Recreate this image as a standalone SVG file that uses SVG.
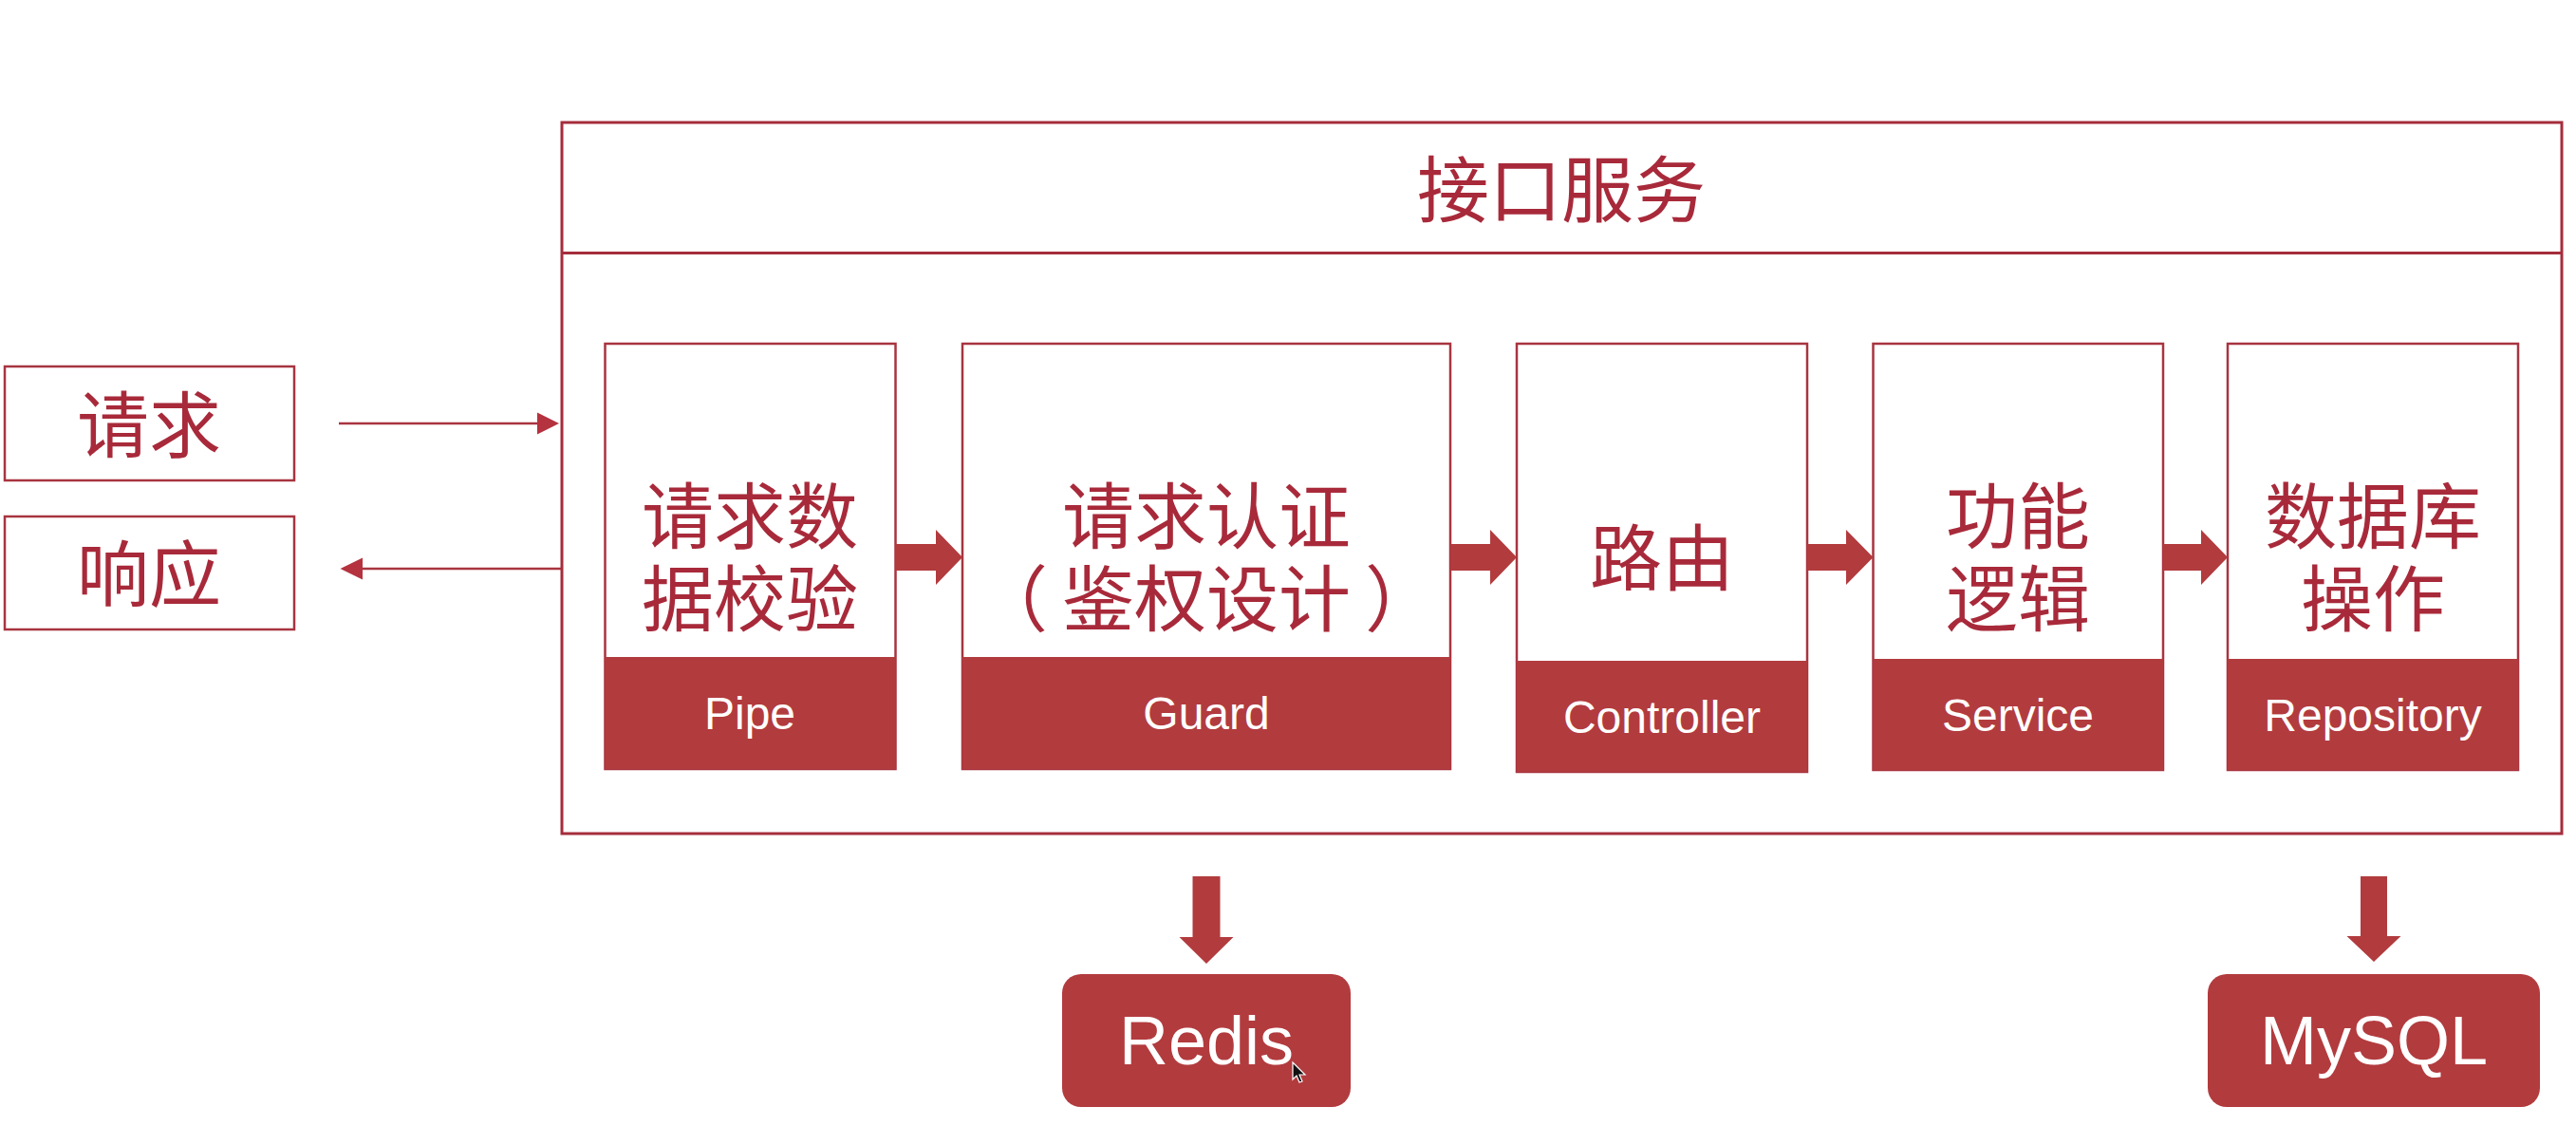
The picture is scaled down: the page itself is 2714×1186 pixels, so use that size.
<svg xmlns="http://www.w3.org/2000/svg" width="2714" height="1186" viewBox="0 0 2714 1186">
  <style>
    .frame { fill: #ffffff; stroke: #a52d3c; stroke-width: 3; }
    .box { fill: #ffffff; stroke: #a83440; stroke-width: 2.5; }
    .bar { fill: #b23b3e; }
    .cjk { font-family: "Noto Sans CJK SC", "Noto Sans", sans-serif; font-size: 76px; fill: #a82a3a; text-anchor: middle; }
    .lbl { font-family: "Liberation Sans", Arial, sans-serif; font-size: 48px; fill: #ffffff; text-anchor: middle; }
    .db { font-family: "Liberation Sans", Arial, sans-serif; font-size: 72px; fill: #ffffff; text-anchor: middle; }
    .fat { fill: #b23b3e; }
    .thin { stroke: #a83440; stroke-width: 2.5; fill: none; }
    .head { fill: #b5323f; }
  </style>
  <rect width="2714" height="1186" fill="#ffffff"/>

  <g id="request">
    <rect class="box" x="5" y="386" width="305" height="120"/>
    <text class="cjk" x="157" y="476">请求</text>
  </g>
  <g id="response">
    <rect class="box" x="5" y="544" width="305" height="119"/>
    <text class="cjk" x="157" y="633">响应</text>
  </g>

  <g id="api-service">
    <rect class="frame" x="592" y="129" width="2107" height="749"/>
    <line x1="592" y1="266.5" x2="2699" y2="266.5" stroke="#a52d3c" stroke-width="3"/>
    <text class="cjk" x="1645" y="228">接口服务</text>
  </g>

  <g id="pipe">
    <rect class="box" x="637.5" y="362" width="306" height="448"/>
    <rect class="bar" x="637.5" y="692" width="306" height="118"/>
    <text class="cjk"><tspan x="790" y="572">请求数</tspan><tspan x="790" y="659">据校验</tspan></text>
    <text class="lbl" x="790" y="768">Pipe</text>
  </g>

  <g id="guard">
    <rect class="box" x="1014" y="362" width="514" height="448"/>
    <rect class="bar" x="1014" y="692" width="514" height="118"/>
    <text class="cjk"><tspan x="1271" y="572">请求认证</tspan><tspan x="1271" y="659">（<tspan dx="15">鉴权设计</tspan><tspan dx="15">）</tspan></tspan></text>
    <text class="lbl" x="1271" y="768">Guard</text>
  </g>

  <g id="controller">
    <rect class="box" x="1598" y="362" width="306" height="451"/>
    <rect class="bar" x="1598" y="696" width="306" height="117"/>
    <text class="cjk" x="1751" y="616">路由</text>
    <text class="lbl" x="1751" y="772">Controller</text>
  </g>

  <g id="service">
    <rect class="box" x="1973.5" y="362" width="305.5" height="449"/>
    <rect class="bar" x="1973.5" y="694" width="305.5" height="117"/>
    <text class="cjk"><tspan x="2126" y="572">功能</tspan><tspan x="2126" y="659">逻辑</tspan></text>
    <text class="lbl" x="2126" y="770">Service</text>
  </g>

  <g id="repository">
    <rect class="box" x="2347" y="362" width="306" height="449"/>
    <rect class="bar" x="2347" y="694" width="306" height="117"/>
    <text class="cjk"><tspan x="2500" y="572">数据库</tspan><tspan x="2500" y="659">操作</tspan></text>
    <text class="lbl" x="2500" y="770">Repository</text>
  </g>

  <g id="redis">
    <rect class="bar" x="1119" y="1026" width="304" height="140" rx="20" ry="20"/>
    <text class="db" x="1271" y="1121">Redis</text>
  </g>

  <g id="mysql">
    <rect class="bar" x="2326" y="1026" width="350" height="140" rx="20" ry="20"/>
    <text class="db" x="2501" y="1121">MySQL</text>
  </g>

  <g id="connectors">
    <line class="thin" x1="357" y1="446" x2="568" y2="446"/>
    <polygon class="head" points="566,434.5 589,446 566,457.5"/>
    <line class="thin" x1="591" y1="599" x2="380" y2="599"/>
    <polygon class="head" points="382,587.5 358.5,599 382,610.5"/>
    <polygon class="fat" points="943.5,573 986,573 986,558 1014,587 986,616 986,601 943.5,601"/>
    <polygon class="fat" points="1528,573 1570,573 1570,558 1598,587 1570,616 1570,601 1528,601"/>
    <polygon class="fat" points="1904,573 1945,573 1945,558 1973.5,587 1945,616 1945,601 1904,601"/>
    <polygon class="fat" points="2279,573 2319,573 2319,558 2347,587 2319,616 2319,601 2279,601"/>
    <polygon class="fat" points="1256.5,923 1285.5,923 1285.5,987 1299.5,987 1271,1015 1242.5,987 1256.5,987"/>
    <polygon class="fat" points="2487,923 2515,923 2515,986 2529.5,986 2501,1013 2472.5,986 2487,986"/>
  </g>

  <path d="M1362,1119 L1362,1137 L1366,1133 L1369,1140 L1372,1139 L1369,1132 L1375,1132 Z" fill="#111111" stroke="#ffffff" stroke-width="1.2"/>
</svg>
